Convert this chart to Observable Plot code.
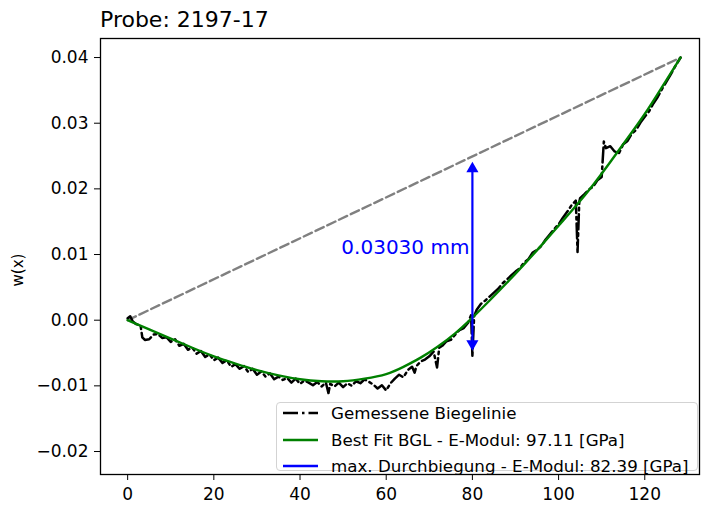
<!DOCTYPE html>
<html><head><meta charset="utf-8">
<script src="https://cdn.jsdelivr.net/npm/d3@7"></script>
<script src="https://cdn.jsdelivr.net/npm/@observablehq/plot@0.6"></script>
<style>
body{margin:0;background:#fff;font-family:"DejaVu Sans",sans-serif;}
#wrap{position:relative;width:702px;height:520px;overflow:hidden;background:#fff;}
#title{position:absolute;left:100px;top:9px;font-size:22px;line-height:1;color:#000;white-space:nowrap;}
#chart{position:absolute;left:0;top:30px;}
#ylabel{position:absolute;left:18px;top:270px;transform:translate(-50%,-50%) rotate(-90deg);font-size:15px;white-space:nowrap;color:#000;}
#legend{position:absolute;left:276px;top:402px;width:422px;height:69px;box-sizing:border-box;border:1px solid #d3d3d3;border-radius:4px;background:rgba(255,255,255,0.85);}
.row{position:absolute;left:0;height:20px;display:flex;align-items:center;font-size:16.7px;color:#000;white-space:nowrap;}
.row svg{margin-left:6px;margin-right:13px;}
</style></head>
<body>
<div id="wrap">
  <div id="title"></div>
  <div id="chart"></div>
  <div id="ylabel"></div>
  <div id="legend"></div>
</div>
<script>
// ---- text ----
const titleText = "Probe: 2197-17";
const yLabel = "w(x)";
const annotationText = "0.03030 mm";
const legendLabels = ["Gemessene Biegelinie", "Best Fit BGL - E-Modul: 97.11 [GPa]", "max. Durchbiegung - E-Modul: 82.39 [GPa]"];
const legendColors = ["#000000", "#008000", "#0000ff"];

// ---- ticks ----
const xTicks = [0, 20, 40, 60, 80, 100, 120];
const yTicks = [-0.02, -0.01, 0.00, 0.01, 0.02, 0.03, 0.04];

// ---- measured bending line (Gemessene Biegelinie) ----
const measX = [0,0.6,1.2,2,3,3.4,4,5,6,7,8,9,10,11,12,13,14,15,16,17,18,19,20,21,22,23,24,25,26,27,28,29,30,31,32,33,34,35,36,37,38,39,40,41,42,43,44,45,46,46.6,47,48,49,50,51,52,53,54,55,56,57,58,59,60,61,62,63,64,65,66,66.6,67,68,69,70,71,71.8,72.3,73,74,75,76,77,78,79,79.7,80,80.4,81,82,83,84,85,86,87,88,89,90,91,92,93,94,95,96,97,98,99,100,101,102,103,104,104.4,104.8,105,106,107,108,109,110,110.5,111,112,113,114,115,116,117,118,119,120,121,122,123,124,125,126,127,128.3];
const measY = [0.0003,0.0006,-0.0002,-0.0006,-0.0008,-0.0026,-0.0030,-0.0029,-0.0022,-0.0021,-0.0027,-0.0026,-0.0033,-0.0029,-0.0039,-0.0036,-0.0045,-0.0042,-0.0051,-0.0047,-0.0056,-0.0052,-0.0061,-0.0057,-0.0065,-0.0061,-0.0071,-0.0067,-0.0074,-0.0070,-0.0079,-0.0074,-0.0083,-0.0078,-0.0086,-0.0081,-0.0090,-0.0086,-0.0091,-0.0088,-0.0095,-0.0089,-0.0097,-0.0092,-0.0095,-0.0099,-0.0094,-0.0101,-0.0095,-0.0111,-0.0097,-0.0101,-0.0095,-0.0102,-0.0096,-0.0100,-0.0093,-0.0096,-0.0090,-0.0094,-0.0098,-0.0104,-0.0099,-0.0107,-0.0096,-0.0089,-0.0083,-0.0087,-0.0076,-0.0071,-0.0080,-0.0070,-0.0063,-0.0060,-0.0055,-0.0048,-0.0072,-0.0042,-0.0039,-0.0032,-0.0030,-0.0022,-0.0015,-0.0012,-0.0004,0.0008,-0.0054,0.0006,0.0016,0.0025,0.0030,0.0036,0.0042,0.0048,0.0056,0.0062,0.0068,0.0074,0.0079,0.0088,0.0093,0.0103,0.0107,0.0113,0.0123,0.0131,0.0139,0.0146,0.0156,0.0165,0.0175,0.0182,0.0104,0.0180,0.0186,0.0192,0.0199,0.0203,0.0213,0.0218,0.0272,0.0262,0.0265,0.0257,0.0254,0.0268,0.0273,0.0284,0.0290,0.0301,0.0310,0.0318,0.0330,0.0340,0.0352,0.0363,0.0374,0.0386,0.0400];

// ---- best fit (Best Fit BGL) ----
const fitX = [0,5,10,15,20,25,30,35,40,45,50,55,60,64,68,72,76,80,84,88,92,96,100,104,108,112,116,120,124,128.3];
const fitY = [0.0000,-0.0014,-0.0028,-0.0042,-0.0055,-0.0066,-0.0076,-0.0084,-0.0090,-0.0093,-0.0093,-0.0089,-0.0082,-0.0071,-0.0057,-0.0040,-0.0020,0.0004,0.0030,0.0057,0.0085,0.0114,0.0144,0.0174,0.0206,0.0241,0.0277,0.0314,0.0355,0.0400];

// ---- chord (grey dashed) ----
const chordX = [0, 128.3];
const chordY = [0.0000, 0.0400];

// ---- max deflection arrow ----
const arrowX = [80];
const arrowTop = [0.0249];
const arrowBottom = [-0.0054];
const annotationY = [0.0111];

// ---- build tables ----
const meas = measX.map((x, i) => ({x, y: measY[i]}));
const fit = fitX.map((x, i) => ({x, y: fitY[i]}));
const chord = chordX.map((x, i) => ({x, y: chordY[i]}));
const arrow = arrowX.map((x, i) => ({x, y1: arrowBottom[i], y2: arrowTop[i]}));
const ann = arrowX.map((x, i) => ({x, y: annotationY[i], text: annotationText}));

const chart = Plot.plot({
  width: 702,
  height: 490,
  marginTop: 8,
  marginBottom: 46,
  marginLeft: 100,
  marginRight: 3,
  style: {fontFamily: "DejaVu Sans", fontSize: "17px", color: "#000", background: "transparent", overflow: "visible"},
  x: {domain: [-6.3, 132.7]},
  y: {domain: [-0.0235, 0.0429]},
  marks: [
    Plot.line(chord, {x: "x", y: "y", stroke: "#808080", strokeWidth: 2.4, strokeDasharray: "9,4"}),
    Plot.line(meas, {x: "x", y: "y", stroke: "#000", strokeWidth: 2.5, strokeDasharray: "15,4,2.5,4"}),
    Plot.line(fit, {x: "x", y: "y", stroke: "#008000", strokeWidth: 2.4, curve: "natural"}),
    Plot.arrow(arrow, {x: "x", y1: "y1", y2: "y2", stroke: "#0000ff", strokeWidth: 2.2, headLength: 0, insetStart: 12, insetEnd: 12}),
    Plot.dot(arrow, {x: "x", y: "y2", symbol: "triangle", r: 4.5, fill: "#0000ff", stroke: "none", dy: 12}),
    Plot.dot(arrow, {x: "x", y: "y1", symbol: "triangle", r: 4.5, fill: "#0000ff", stroke: "none", rotate: 180, dy: -12}),
    Plot.text(ann, {x: "x", y: "y", text: "text", textAnchor: "end", dx: -3, fill: "#0000ff", fontSize: 20}),
    Plot.frame({stroke: "#000", strokeWidth: 1.3}),
    Plot.axisX({ticks: xTicks, tickSize: 6, tickPadding: 7, label: null, fontSize: 17}),
    Plot.axisY({ticks: yTicks, tickSize: 6, tickPadding: 6, tickFormat: d3.format(".2f"), label: null, fontSize: 17})
  ]
});
document.getElementById("chart").appendChild(chart);
document.getElementById("title").textContent = titleText;
document.getElementById("ylabel").textContent = yLabel;

// ---- legend ----
const leg = document.getElementById("legend");
const rowTops = [0, 27, 53];
legendLabels.forEach((lab, i) => {
  const row = document.createElement("div");
  row.className = "row";
  row.style.top = rowTops[i] + "px";
  const dash = i === 0 ? "15,4,2.5,4" : "none";
  row.innerHTML = `<svg width="35" height="6"><line x1="0" y1="3" x2="35" y2="3" stroke="${legendColors[i]}" stroke-width="2.6" stroke-dasharray="${dash}"/></svg><span>${lab}</span>`;
  leg.appendChild(row);
});
</script>
</body></html>
